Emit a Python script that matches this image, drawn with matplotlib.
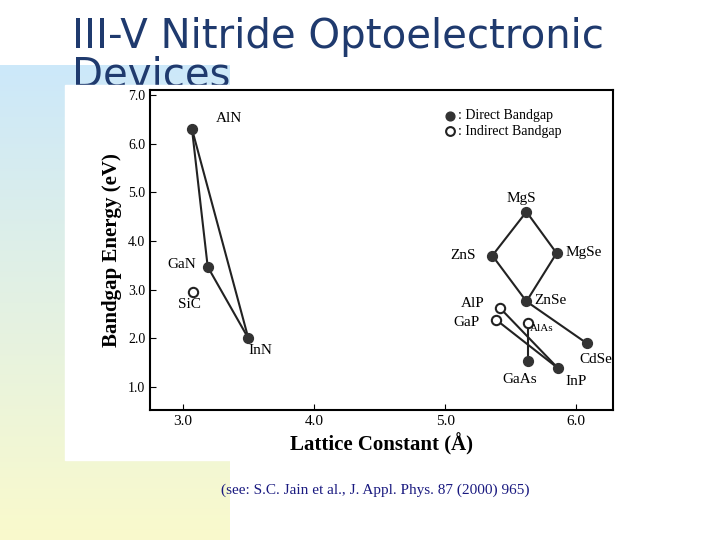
import numpy as np
import matplotlib.pyplot as plt
from matplotlib.patches import Rectangle

# ---- data ----
direct_names = ["AlN", "GaN", "InN", "MgS", "ZnS", "MgSe", "ZnSe", "CdSe", "GaAs", "InP"]
direct_a = [3.07, 3.19, 3.50, 5.62, 5.36, 5.85, 5.62, 6.08, 5.63, 5.86]
direct_eg = [6.30, 3.47, 2.00, 4.60, 3.70, 3.75, 2.76, 1.90, 1.54, 1.39]

indirect_names = ["SiC", "AlP", "GaP", "AlAs"]
indirect_a = [3.08, 5.42, 5.39, 5.63]
indirect_eg = [2.96, 2.62, 2.38, 2.31]

links = [("AlN", "GaN"), ("GaN", "InN"), ("AlN", "InN"),
         ("MgS", "ZnS"), ("MgS", "MgSe"), ("ZnS", "ZnSe"), ("MgSe", "ZnSe"),
         ("ZnSe", "CdSe"), ("AlP", "InP"), ("GaP", "InP"), ("AlAs", "GaAs")]

label_pos = {"AlN": (3.25, 6.45), "GaN": (2.88, 3.45), "InN": (3.50, 1.68),
             "SiC": (2.96, 2.62), "MgS": (5.47, 4.80), "ZnS": (5.04, 3.63),
             "MgSe": (5.92, 3.70), "ZnSe": (5.68, 2.70), "AlP": (5.12, 2.65),
             "GaP": (5.06, 2.25), "AlAs": (5.65, 2.15), "CdSe": (6.02, 1.50),
             "GaAs": (5.44, 1.09), "InP": (5.92, 1.05)}

pts = dict(zip(direct_names, zip(direct_a, direct_eg)))
pts.update(zip(indirect_names, zip(indirect_a, indirect_eg)))

fig = plt.figure(figsize=(7.2, 5.4), dpi=100)

# slide background: gradient strip on the left
bg = fig.add_axes([0, 0, 1, 1])
bg.set_xlim(0, 720)
bg.set_ylim(540, 0)
bg.axis("off")
grad = np.linspace(0, 1, 256)[:, None]
top = np.array([0.80, 0.91, 0.98])
bot = np.array([0.98, 0.98, 0.80])
img = top[None, None, :] * (1 - grad[:, :, None]) + bot[None, None, :] * grad[:, :, None]
bg.imshow(img, extent=[0, 230, 540, 65], aspect="auto", zorder=0)
bg.text(72, 17, "III-V Nitride Optoelectronic\nDevices", fontsize=29, color="#1f3a6e",
        va="top", ha="left", linespacing=0.95, zorder=0.5)
bg.add_patch(Rectangle((65, 85), 585, 375, color="white", zorder=1))
bg.text(375, 490, "(see: S.C. Jain et al., J. Appl. Phys. 87 (2000) 965)",
        fontsize=11, family="Liberation Serif", color="#1a1a80", ha="center", va="center")

ax = fig.add_axes([150 / 720, 1 - 410 / 540, 463 / 720, 320 / 540])
ax.set_xlim(2.75, 6.28)
ax.set_ylim(0.53, 7.1)
for a, b in links:
    ax.plot([pts[a][0], pts[b][0]], [pts[a][1], pts[b][1]], color="#222222", lw=1.5, zorder=2)
ax.scatter(direct_a, direct_eg, s=50, color="#333333", zorder=3)
ax.scatter(indirect_a, indirect_eg, s=45, facecolor="white", edgecolor="#222222", lw=1.5, zorder=3)
for name, (x, y) in label_pos.items():
    ax.text(x, y, name, fontsize=8 if name == "AlAs" else 11, family="Liberation Serif")

ax.scatter([5.04], [6.57], s=40, color="#333333", clip_on=False)
ax.scatter([5.04], [6.25], s=40, facecolor="white", edgecolor="#222222", lw=1.5, clip_on=False)
ax.text(5.1, 6.57, ": Direct Bandgap", fontsize=10, family="Liberation Serif", va="center")
ax.text(5.1, 6.25, ": Indirect Bandgap", fontsize=10, family="Liberation Serif", va="center")

ax.set_xticks([3.0, 4.0, 5.0, 6.0])
ax.set_xticklabels(["3.0", "4.0", "5.0", "6.0"], family="Liberation Serif", fontsize=11)
ax.set_yticks([1.0, 2.0, 3.0, 4.0, 5.0, 6.0, 7.0])
ax.set_yticklabels(["1.0", "2.0", "3.0", "4.0", "5.0", "6.0", "7.0"], family="Liberation Serif", fontsize=10)
ax.tick_params(direction="in", length=4)
for s in ax.spines.values():
    s.set_linewidth(1.5)
ax.set_xlabel("Lattice Constant (Å)", family="Liberation Serif", fontsize=15, fontweight="bold")
ax.set_ylabel("Bandgap Energy (eV)", family="Liberation Serif", fontsize=15, fontweight="bold")

fig.savefig("out.png", dpi=100)
